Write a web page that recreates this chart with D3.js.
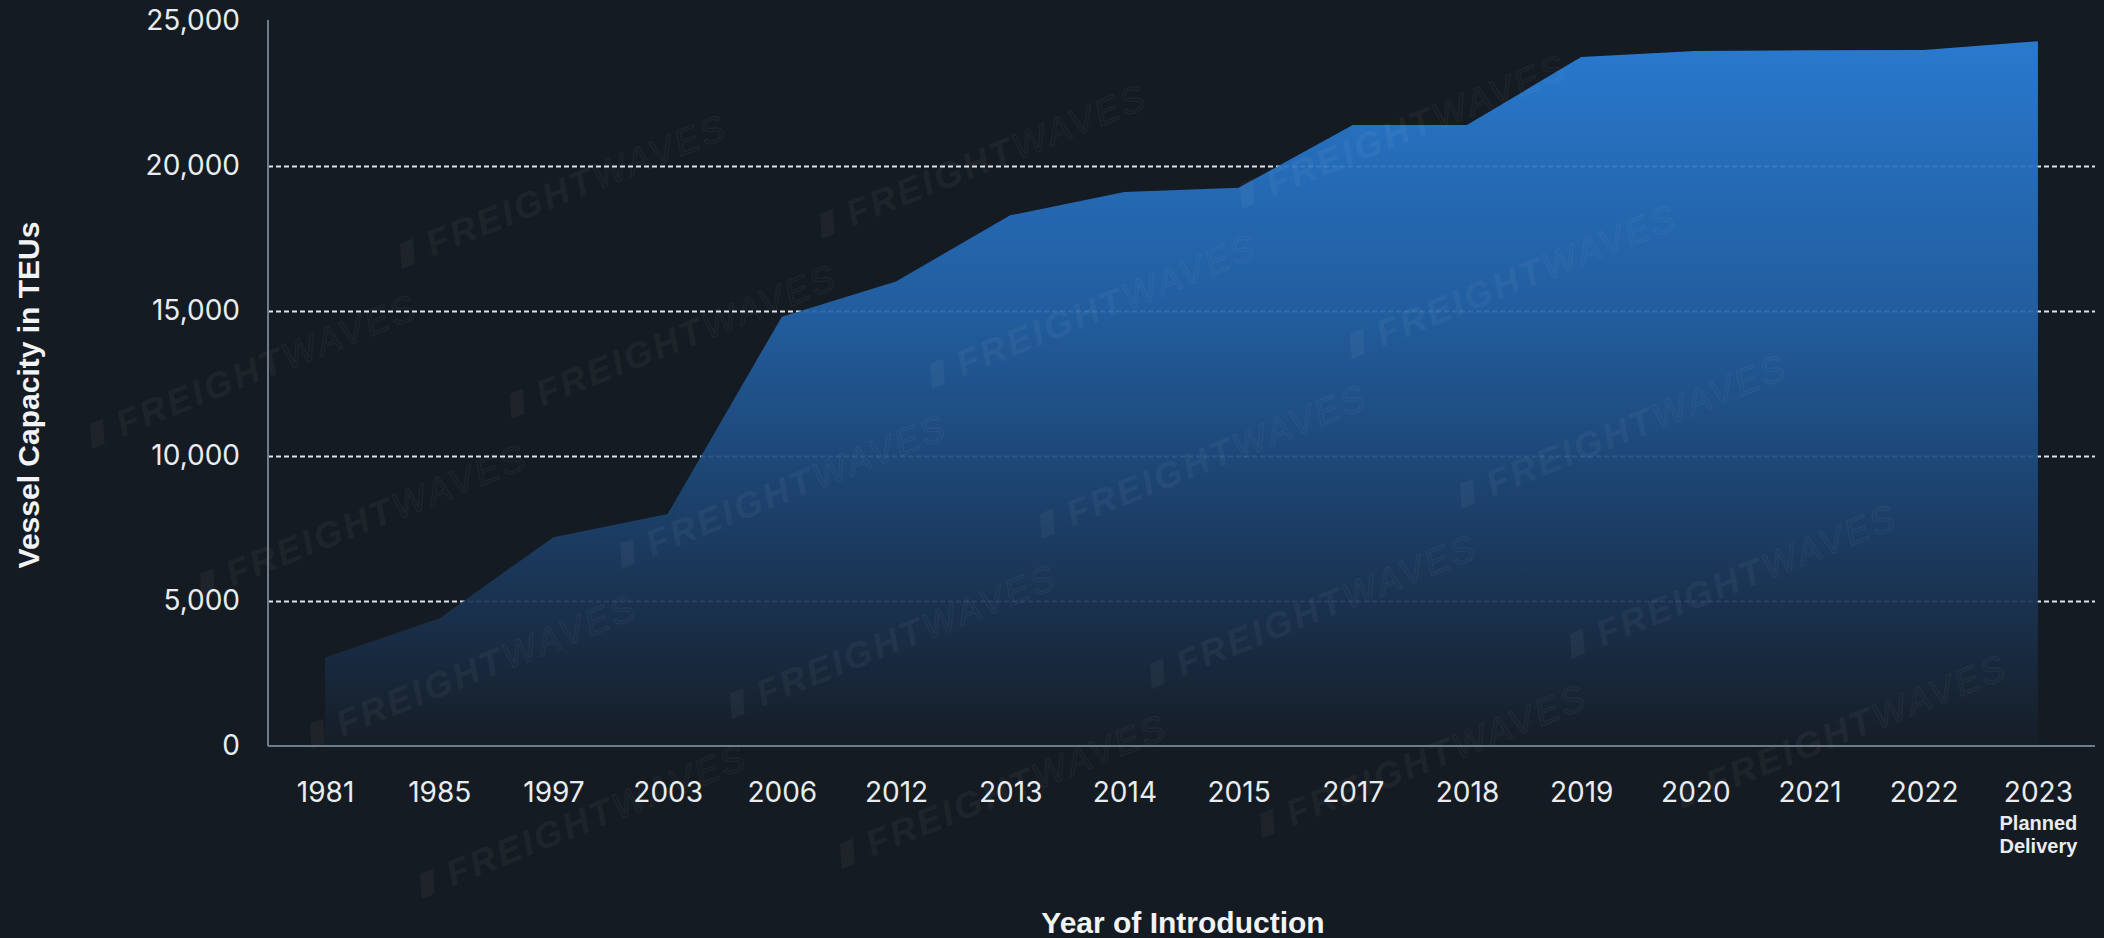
<!DOCTYPE html>
<html>
<head>
<meta charset="utf-8">
<script src="https://cdn.jsdelivr.net/npm/d3@7/dist/d3.min.js"></script>
<style>
  html, body { margin: 0; padding: 0; background: #151b22; }
  svg { display: block; }
</style>
</head>
<body>
<svg id="chart" width="2104" height="938"></svg>
<script>
// ---- data ----
const years = ["1981","1985","1997","2003","2006","2012","2013","2014","2015","2017","2018","2019","2020","2021","2022","2023"];
const capacity = [3050, 4400, 7200, 8000, 14800, 16020, 18300, 19100, 19250, 21413, 21413, 23756, 23964, 23992, 24004, 24300];
const yTickValues = [0, 5000, 10000, 15000, 20000, 25000];
const gridValues = [5000, 10000, 15000, 20000];
const lastNote = ["Planned", "Delivery"];
const yTitle = "Vessel Capacity in TEUs";
const xTitle = "Year of Introduction";

const W = 2104, H = 938;
const plot = { left: 268, right: 2095, top: 21, bottom: 746 };

const svg = d3.select("#chart");
svg.append("rect").attr("width", W).attr("height", H).attr("fill", "#151b22");

const x = d3.scalePoint().domain(years).range([plot.left, plot.right]).padding(0.5);
const y = d3.scaleLinear().domain([0, 25000]).range([plot.bottom, plot.top]);

// gradient
const defs = svg.append("defs");
const grad = defs.append("linearGradient").attr("id", "areaGrad")
  .attr("gradientUnits", "userSpaceOnUse")
  .attr("x1", 0).attr("x2", 0).attr("y1", plot.top).attr("y2", plot.bottom);
[[0, "#2b84e2"], [0.18, "#2774c6"], [0.4, "#2363a9"], [0.6, "#1e4c80"], [0.8, "#1a3454"], [0.94, "#172433"], [1, "#161e28"]]
  .forEach(([o, c]) => grad.append("stop").attr("offset", o).attr("stop-color", c));

// gridlines (behind area)
const grid = svg.append("g")
  .attr("transform", `translate(${plot.left},0)`)
  .call(d3.axisLeft(y).tickValues(gridValues).tickSize(-(plot.right - plot.left)).tickFormat(""));
grid.select(".domain").remove();
grid.selectAll("line")
  .attr("stroke", "#dfe3e8")
  .attr("stroke-width", 2)
  .attr("stroke-dasharray", "5,3");

// area
const data = years.map((yr, i) => ({ yr, v: capacity[i] }));
const area = d3.area()
  .x(d => x(d.yr))
  .y0(y(0))
  .y1(d => y(d.v));
svg.append("path")
  .datum(data)
  .attr("d", area)
  .attr("fill", "url(#areaGrad)")
  .attr("fill-opacity", 0.92);

// watermarks (only those fully inside the canvas)
const wm = svg.append("g").attr("pointer-events", "none");
const wmPositions = [];
for (let j = -4; j < 10; j++) {
  for (let i = -2; i < 10; i++) {
    const cx = 60 + i * 420 + j * 110;
    const cy = 60 + j * 150 - i * 30;
    if (cx > 215 && cx < W - 215 && cy > 95 && cy < H - 95) wmPositions.push([cx, cy]);
  }
}
wmPositions.forEach(([cx, cy]) => {
  const g = wm.append("g").attr("transform", `translate(${cx},${cy}) rotate(-22)`).attr("opacity", 0.04);
  g.append("path").attr("d", "M-200,-12 l14,0 l-8,24 l-14,0 z").attr("fill", "#ffffff");
  const t = g.append("text").attr("x", -175).attr("y", 12)
    .attr("font-family", "Liberation Sans, Arial, sans-serif")
    .attr("font-style", "italic").attr("font-size", 36).attr("letter-spacing", 3).attr("fill", "#ffffff");
  t.append("tspan").attr("font-weight", 700).text("FREIGHT");
  t.append("tspan").attr("font-weight", 400).attr("fill", "none").attr("stroke", "#ffffff").attr("stroke-width", 1.2).text("WAVES");
});

// y axis
const yAxis = svg.append("g")
  .attr("transform", `translate(${plot.left},0)`)
  .call(d3.axisLeft(y).tickValues(yTickValues).tickSize(0).tickPadding(28)
    .tickFormat(d3.format(",")));
yAxis.select(".domain").attr("stroke", "#6f7b88").attr("stroke-width", 2)
  .attr("d", `M0,${plot.top - 1}V${plot.bottom}`);
yAxis.selectAll("text")
  .attr("font-family", "Inter, 'Noto Sans', sans-serif")
  .attr("font-size", 28)
  .attr("fill", "#e9ecef");

// x axis
const xAxis = svg.append("g")
  .attr("transform", `translate(0,${plot.bottom})`)
  .call(d3.axisBottom(x).tickSize(0).tickPadding(36));
xAxis.select(".domain").attr("stroke", "#6f7b88").attr("stroke-width", 2)
  .attr("d", `M${plot.left},0H${plot.right}`);
xAxis.selectAll("text")
  .attr("font-family", "Inter, 'Noto Sans', sans-serif")
  .attr("font-size", 28)
  .attr("fill", "#e9ecef");

// note under last tick
const lastTick = xAxis.selectAll(".tick").filter(d => d === years[years.length - 1]);
lastNote.forEach((line, i) => {
  lastTick.append("text")
    .attr("y", 84 + i * 23)
    .attr("text-anchor", "middle")
    .attr("font-family", "Liberation Sans, Arial, sans-serif")
    .attr("font-weight", 700)
    .attr("font-size", 20)
    .attr("fill", "#e9ecef")
    .text(line);
});

// titles
svg.append("text")
  .attr("transform", `translate(39,395) rotate(-90)`)
  .attr("text-anchor", "middle")
  .attr("font-family", "Liberation Sans, Arial, sans-serif")
  .attr("font-weight", 700)
  .attr("font-size", 30)
  .attr("fill", "#f1f3f5")
  .text(yTitle);

svg.append("text")
  .attr("x", 1183).attr("y", 933)
  .attr("text-anchor", "middle")
  .attr("font-family", "Liberation Sans, Arial, sans-serif")
  .attr("font-weight", 700)
  .attr("font-size", 30)
  .attr("fill", "#f1f3f5")
  .text(xTitle);
</script>
</body>
</html>
